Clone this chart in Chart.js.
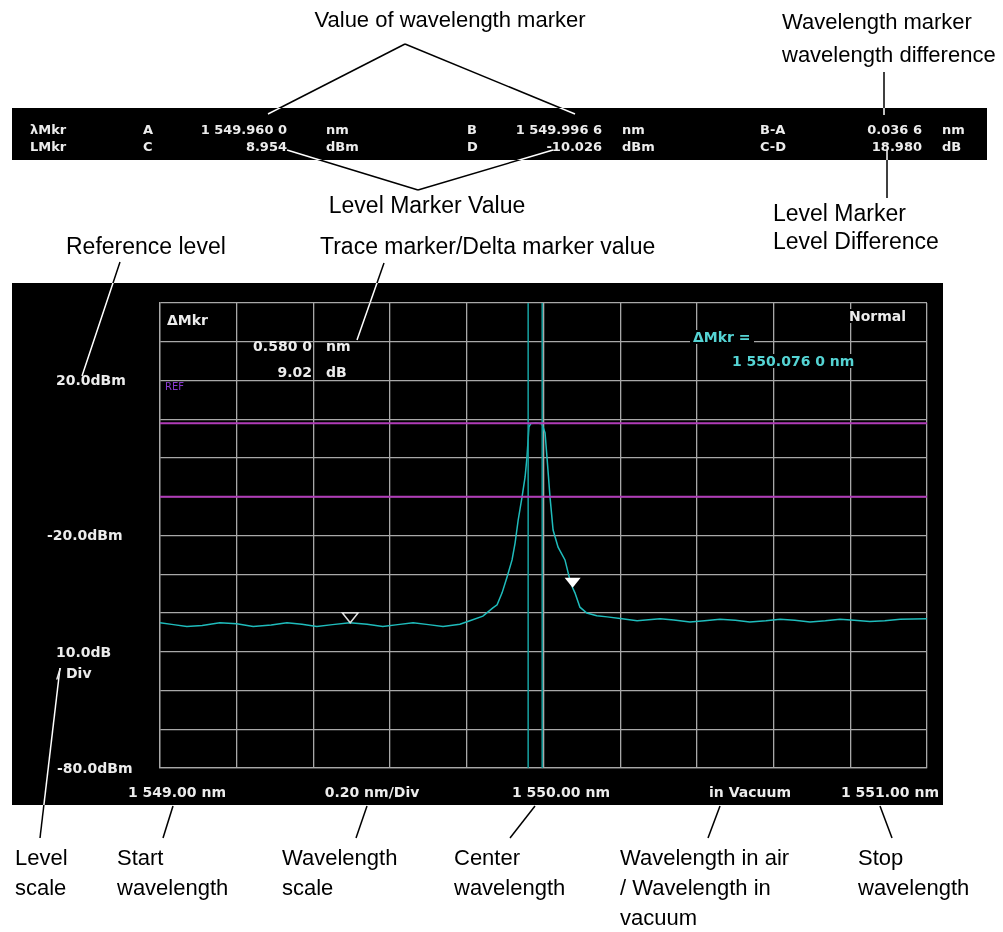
<!DOCTYPE html>
<html>
<head>
<meta charset="utf-8">
<script src="https://cdn.jsdelivr.net/npm/chart.js@4.4.1/dist/chart.umd.min.js"></script>
<style>
  body { margin: 0; background: #fff; }
  #wrap { position: relative; width: 1003px; height: 932px; overflow: hidden; }
  .scr { position: absolute; background: #000; }
  canvas { position: absolute; left: 0; top: 0; }
  svg { position: absolute; left: 0; top: 0; }
  .t { position: absolute; white-space: nowrap; line-height: 1; }
  .ann { font-family: "Liberation Sans", Arial, sans-serif; font-size: 22px; color: #000; }
  .st { font-family: "DejaVu Sans", sans-serif; font-weight: bold; font-size: 14px; color: #ececec; }
  .bar { font-size: 13px; }
  .cy { color: #55d4d4; background: #000; padding: 0 3px; }
  .bg { background: #000; padding: 0 3px; }
  .ref { font-family: "DejaVu Sans", sans-serif; font-size: 10px; color: #8a3ad0; }
</style>
</head>
<body>
<div id="wrap">
  <div class="scr" style="left:12px;top:108px;width:975px;height:52px"></div>
  <div class="scr" style="left:12px;top:283px;width:931px;height:522px"></div>
  <canvas id="osa" width="1003" height="932"></canvas>
  <svg id="leaders" width="1003" height="932"></svg>
</div>
<script>
// trace: wavelength (nm) and level (dBm)
const wavelengths = [
  1549.000, 1549.035, 1549.070, 1549.110, 1549.156, 1549.200, 1549.243, 1549.290, 1549.331, 1549.370,
  1549.409, 1549.450, 1549.495, 1549.540, 1549.581, 1549.620, 1549.660, 1549.700, 1549.738, 1549.782,
  1549.808, 1549.842, 1549.868, 1549.879, 1549.892, 1549.905, 1549.918, 1549.926, 1549.934, 1549.944,
  1549.952, 1549.957, 1549.962, 1549.967, 1549.980, 1549.993, 1549.996, 1550.004, 1550.009, 1550.017,
  1550.025, 1550.038, 1550.056, 1550.069, 1550.076, 1550.082, 1550.095, 1550.113, 1550.139, 1550.166,
  1550.205, 1550.244, 1550.304, 1550.340, 1550.382, 1550.420, 1550.460, 1550.500, 1550.538, 1550.580,
  1550.617, 1550.655, 1550.695, 1550.735, 1550.773, 1550.810, 1550.851, 1550.890, 1550.930, 1551.000
];
const levels = [
  -42.5, -43.0, -43.5, -43.2, -42.5, -42.8, -43.5, -43.1, -42.5, -42.9,
  -43.5, -43.0, -42.5, -42.9, -43.5, -43.0, -42.5, -43.0, -43.5, -42.9,
  -42.0, -40.8, -38.7, -37.9, -34.8, -30.7, -26.3, -21.9, -16.0, -10.1,
  -4.9, 0.3, 8.0, 8.9, 9.0, 8.9, 8.8, 6.5, 0.3, -10.1,
  -18.6, -23.0, -26.3, -31.5, -33.5, -34.8, -38.5, -40.0, -40.7, -41.0,
  -41.5, -42.0, -41.5, -41.8, -42.3, -42.0, -41.6, -41.9, -42.3, -42.0,
  -41.6, -41.9, -42.3, -42.0, -41.6, -41.9, -42.2, -42.0, -41.6, -41.5
];

// markers
const wlMarkers = [1549.9600, 1549.9966];      // A, B
const levelMarkers = [8.954, -10.026];         // C, D
const refMarker = [1549.496, -42.5];           // trace marker
const deltaMarker = [1550.076, -33.48];        // delta marker

// axis settings
const startWl = 1549.00, stopWl = 1551.00, wlStep = 0.20;
const levelMin = -80, levelMax = 40, levelStep = 10;

const trace = wavelengths.map((w, i) => ({ x: w, y: levels[i] }));

const datasets = [];
levelMarkers.forEach(v => datasets.push({
  data: [{ x: startWl, y: v }, { x: stopWl, y: v }],
  borderColor: '#b03cb8', borderWidth: 2, pointRadius: 0, order: 0
}));
wlMarkers.forEach(w => datasets.push({
  data: [{ x: w, y: levelMin }, { x: w, y: levelMax }],
  borderColor: '#17a2a2', borderWidth: 1.5, pointRadius: 0, order: 1
}));
datasets.push({
  data: trace, borderColor: '#1fbcbc', borderWidth: 1.5, pointRadius: 0, tension: 0, order: 2
});

// triangle markers sitting on the trace
const markerPlugin = {
  id: 'markers',
  afterDatasetsDraw(chart) {
    const { ctx, scales: { x, y } } = chart;
    const tri = (m, filled) => {
      const px = x.getPixelForValue(m[0]);
      const py = y.getPixelForValue(m[1]);
      ctx.save();
      ctx.beginPath();
      ctx.moveTo(px - 8, py - 10);
      ctx.lineTo(px + 8, py - 10);
      ctx.lineTo(px, py);
      ctx.closePath();
      if (filled) { ctx.fillStyle = '#fff'; ctx.fill(); }
      else { ctx.strokeStyle = '#e0e0e0'; ctx.lineWidth = 1.5; ctx.stroke(); }
      ctx.restore();
    };
    tri(refMarker, false);
    tri(deltaMarker, true);
  }
};

new Chart(document.getElementById('osa'), {
  type: 'line',
  data: { datasets: datasets },
  options: {
    responsive: false,
    animation: false,
    devicePixelRatio: 1,
    layout: { padding: { left: 160, top: 303, right: 76, bottom: 164 } },
    plugins: { legend: { display: false }, tooltip: { enabled: false } },
    scales: {
      x: {
        type: 'linear', min: startWl, max: stopWl,
        ticks: { display: false, stepSize: wlStep },
        grid: { color: '#a8a8a8', lineWidth: 1.3, drawTicks: false },
        border: { color: '#a8a8a8', width: 1.3 }
      },
      y: {
        type: 'linear', min: levelMin, max: levelMax,
        ticks: { display: false, stepSize: levelStep },
        grid: { color: '#a8a8a8', lineWidth: 1.3, drawTicks: false },
        border: { color: '#a8a8a8', width: 1.3 }
      }
    }
  },
  plugins: [markerPlugin]
});

// texts
const wrap = document.getElementById('wrap');
function put(text, x, y, cls, align, size) {
  const d = document.createElement('div');
  d.className = 't ' + cls;
  d.textContent = text;
  d.style.left = x + 'px';
  d.style.top = y + 'px';
  if (size) d.style.fontSize = size + 'px';
  const tx = align === 'center' ? '-50%' : align === 'right' ? '-100%' : '0';
  d.style.transform = 'translate(' + tx + ', -50%)';
  wrap.appendChild(d);
}

// top marker bar
const barRows = [
  [['λMkr', 30, 'left'], ['A', 143, 'left'], ['1 549.960 0', 287, 'right'], ['nm', 326, 'left'],
   ['B', 467, 'left'], ['1 549.996 6', 602, 'right'], ['nm', 622, 'left'],
   ['B-A', 760, 'left'], ['0.036 6', 922, 'right'], ['nm', 942, 'left']],
  [['LMkr', 30, 'left'], ['C', 143, 'left'], ['8.954', 287, 'right'], ['dBm', 326, 'left'],
   ['D', 467, 'left'], ['-10.026', 602, 'right'], ['dBm', 622, 'left'],
   ['C-D', 760, 'left'], ['18.980', 922, 'right'], ['dB', 942, 'left']]
];
[129, 146].forEach((yy, r) => barRows[r].forEach(c => put(c[0], c[1], yy, 'st bar', c[2])));

// screen labels
put('20.0dBm', 56, 380, 'st', 'left');
put('-20.0dBm', 47, 535, 'st', 'left');
put('10.0dB', 56, 652, 'st', 'left');
put('/ Div', 56, 673, 'st', 'left');
put('-80.0dBm', 57, 768, 'st', 'left');
put('1 549.00 nm', 177, 792, 'st', 'center');
put('0.20 nm/Div', 372, 792, 'st', 'center');
put('1 550.00 nm', 561, 792, 'st', 'center');
put('in Vacuum', 750, 792, 'st', 'center');
put('1 551.00 nm', 890, 792, 'st', 'center');
put('ΔMkr', 167, 320, 'st', 'left');
put('0.580 0', 312, 346, 'st', 'right');
put('nm', 326, 346, 'st', 'left');
put('9.02', 312, 372, 'st', 'right');
put('dB', 326, 372, 'st', 'left');
put('REF', 165, 387, 'ref', 'left');
put('Normal', 846, 316, 'st bg', 'left');
put('ΔMkr =', 690, 337, 'st cy', 'left');
put('1 550.076 0 nm', 729, 361, 'st cy', 'left');

// annotations
put('Value of wavelength marker', 450, 20, 'ann', 'center', 22);
put('Wavelength marker', 782, 22, 'ann', 'left', 22);
put('wavelength difference', 782, 55, 'ann', 'left', 22);
put('Level Marker Value', 427, 205, 'ann', 'center', 23);
put('Level Marker', 773, 213, 'ann', 'left', 23);
put('Level Difference', 773, 241, 'ann', 'left', 23);
put('Reference level', 66, 246, 'ann', 'left', 23);
put('Trace marker/Delta marker value', 320, 246, 'ann', 'left', 23);
const bottomNotes = [
  [['Level', 'scale'], 15], [['Start', 'wavelength'], 117], [['Wavelength', 'scale'], 282],
  [['Center', 'wavelength'], 454], [['Wavelength in air', '/ Wavelength in', 'vacuum'], 620],
  [['Stop', 'wavelength'], 858]
];
bottomNotes.forEach(n => n[0].forEach((s, i) => put(s, n[1], 858 + i * 30, 'ann', 'left', 22)));

// leader lines: black outside the screens, white where they cross them
const leaders = [
  [405, 44, 268, 114], [405, 44, 575, 114], [884, 72, 884, 115],
  [418, 190, 287, 150], [418, 190, 553, 150], [887, 150, 887, 198],
  [120, 262, 82, 376], [384, 263, 357, 340],
  [60, 668, 40, 838], [173, 806, 163, 838], [367, 806, 356, 838],
  [535, 806, 510, 838], [720, 806, 708, 838], [880, 806, 892, 838]
];
let svg = '<defs><clipPath id="scr"><rect x="12" y="108" width="975" height="52"/>' +
  '<rect x="12" y="283" width="931" height="522"/></clipPath></defs>';
leaders.forEach(l => {
  svg += '<line x1="' + l[0] + '" y1="' + l[1] + '" x2="' + l[2] + '" y2="' + l[3] + '" stroke="#000" stroke-width="1.5"/>';
});
svg += '<g clip-path="url(#scr)">';
leaders.forEach(l => {
  svg += '<line x1="' + l[0] + '" y1="' + l[1] + '" x2="' + l[2] + '" y2="' + l[3] + '" stroke="#fff" stroke-width="1.5"/>';
});
svg += '</g>';
document.getElementById('leaders').innerHTML = svg;
</script>
</body>
</html>
